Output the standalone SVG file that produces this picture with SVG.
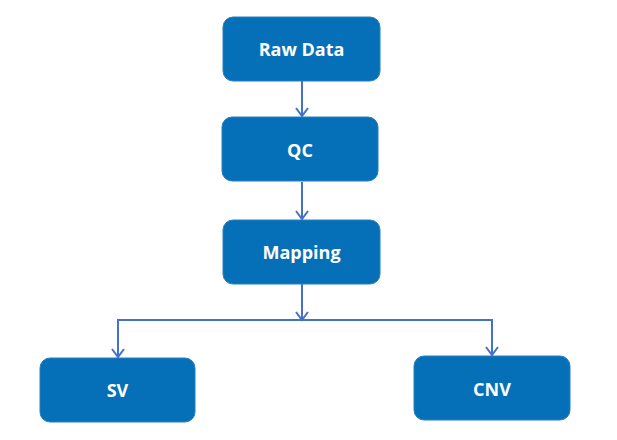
<svg xmlns="http://www.w3.org/2000/svg" width="617" height="440" viewBox="0 0 617 440">
<defs>
<marker id="arr" markerWidth="14" markerHeight="14" refX="12" refY="7" orient="auto" markerUnits="userSpaceOnUse" viewBox="0 0 14 14">
<path d="M4,1 L12,7 L4,13" fill="none" stroke="#4472c4" stroke-width="2"/>
</marker>
<style>
.box{fill:#0570b8;stroke:#2a7fc0;stroke-width:1}
.lbl{fill:#fff;font-family:"Open Sans","Noto Sans",sans-serif;font-weight:bold;font-size:18px;text-anchor:middle;dominant-baseline:central}
.con{fill:none;stroke:#4472c4;stroke-width:2}
</style>
</defs>
<rect width="617" height="440" fill="#fff"/>
<g id="raw-data"><rect class="box" x="223" y="17" width="157" height="64" rx="10"/><text class="lbl" x="301.5" y="49">Raw Data</text></g>
<g id="qc"><rect class="box" x="222" y="117" width="156" height="64" rx="10"/><text class="lbl" x="300" y="150">QC</text></g>
<g id="mapping"><rect class="box" x="223" y="220" width="157" height="64" rx="10"/><text class="lbl" x="301.5" y="252">Mapping</text></g>
<g id="sv"><rect class="box" x="40" y="358" width="155" height="64" rx="10"/><text class="lbl" x="117.5" y="390">SV</text></g>
<g id="cnv"><rect class="box" x="414" y="356" width="156" height="64" rx="10"/><text class="lbl" x="492" y="389">CNV</text></g>
<g id="connectors">
<path class="con" d="M302,81 V116" marker-end="url(#arr)"/>
<path class="con" d="M302,182 V219" marker-end="url(#arr)"/>
<path class="con" d="M302,284 V320" marker-end="url(#arr)"/>
<path class="con" d="M302,320 H118 V357" marker-end="url(#arr)"/>
<path class="con" d="M302,320 H492 V355" marker-end="url(#arr)"/>
</g>
</svg>
